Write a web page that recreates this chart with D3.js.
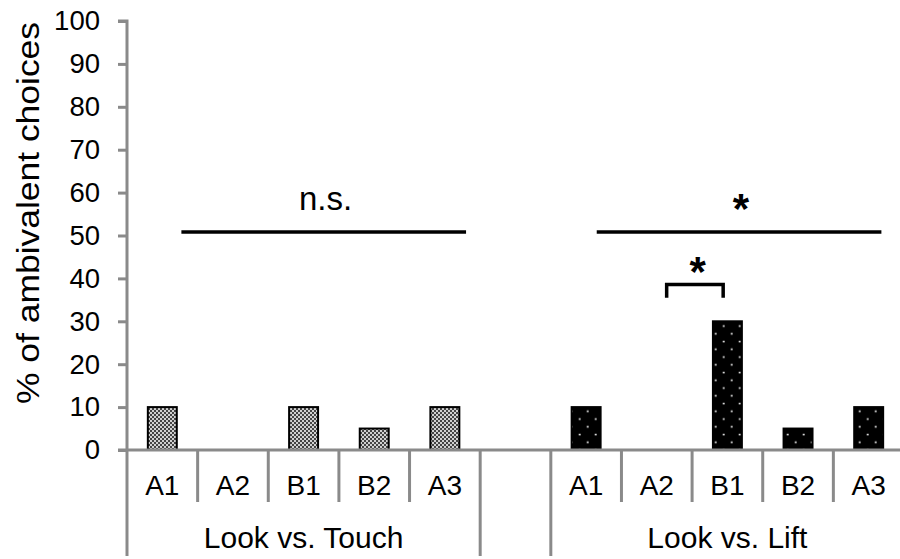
<!DOCTYPE html>
<html><head><meta charset="utf-8">
<script src="https://cdn.jsdelivr.net/npm/d3@7"></script>
<style>html,body{margin:0;padding:0;background:#fff;}svg{display:block;}</style>
</head><body>
<svg id="chart" width="900" height="559"></svg>
<script>
// ---- data ----
const groups = ["Look vs. Touch", "", "Look vs. Lift"];
const conditions = ["A1", "A2", "B1", "B2", "A3"];
const touchValues = [10, 0, 10, 5, 10];
const liftValues = [10, 0, 30, 5, 10];
const yTicks = [0, 10, 20, 30, 40, 50, 60, 70, 80, 90, 100];
const yTitle = "% of ambivalent choices";
// significance annotations (x in slot units, y in % units)
const sigLines = [
  {x1: 0.77, x2: 4.8, y: 50.8, label: "n.s.", lx: 2.81, bold: false},
  {x1: 6.65, x2: 10.68, y: 50.8, label: "*", lx: 8.69, bold: true}
];
const sigBrackets = [
  {x1: 7.64, x2: 8.44, yTop: 38.6, yBottom: 35.5, label: "*", lx: 8.08}
];

// ---- build slots ----
const slots = [];
conditions.forEach((c, i) => slots.push({key: "T" + c, label: c, value: touchValues[i], group: 0}));
slots.push({key: "gap", label: "", value: null, group: 1});
conditions.forEach((c, i) => slots.push({key: "L" + c, label: c, value: liftValues[i], group: 2}));

const svg = d3.select("#chart");
const font = "'Liberation Sans', Arial, sans-serif";
const axisColor = "#8a8a8a";

const x0 = 127, x1 = 904, yBase = 450, yTopPx = 21;
const xs = d3.scaleBand().domain(slots.map(d => d.key)).range([x0, x1]).padding(0);
const xl = d3.scaleLinear().domain([0, slots.length]).range([x0, x1]);
const y = d3.scaleLinear().domain([0, 100]).range([yBase, yTopPx]);

// patterns
const defs = svg.append("defs");
const pc = defs.append("pattern").attr("id", "checker").attr("patternUnits", "userSpaceOnUse")
  .attr("width", 4).attr("height", 4);
pc.append("rect").attr("width", 4).attr("height", 4).attr("fill", "#d0d0d0");
pc.append("rect").attr("width", 2).attr("height", 2).attr("fill", "#444");
pc.append("rect").attr("x", 2).attr("y", 2).attr("width", 2).attr("height", 2).attr("fill", "#444");

const pd = defs.append("pattern").attr("id", "dots").attr("patternUnits", "userSpaceOnUse")
  .attr("width", 16).attr("height", 15.5).attr("x", 3.7).attr("y", 0);
pd.append("rect").attr("width", 16).attr("height", 15.5).attr("fill", "#000");
[[0, 0.6], [16, 0.6], [0, 16.1], [16, 16.1], [8, 8.35]].forEach(p =>
  pd.append("circle").attr("cx", p[0]).attr("cy", p[1]).attr("r", 1).attr("fill", "#e8e8e8"));

// y axis
const yAxis = d3.axisLeft(y).tickValues(yTicks).tickSize(9).tickSizeOuter(9).tickPadding(18);
const gy = svg.append("g").attr("transform", `translate(${x0},0)`).call(yAxis);
gy.select(".domain").attr("stroke", axisColor).attr("stroke-width", 3).attr("d", `M-9,${yTopPx}H0V${yBase}`);
gy.selectAll(".tick line").attr("stroke", axisColor).attr("stroke-width", 3);
gy.selectAll(".tick text").attr("font-family", font).attr("font-size", 27.5).attr("fill", "#000");

// y title
svg.append("text").attr("transform", `translate(39,213) rotate(-90)`)
  .attr("text-anchor", "middle").attr("font-family", font).attr("font-size", 32).attr("fill", "#000")
  .attr("textLength", 382).attr("lengthAdjust", "spacingAndGlyphs")
  .text(yTitle);

// bars
const bw = xs.bandwidth() * 0.41;
svg.append("g").selectAll("rect").data(slots.filter(d => d.value !== null && d.value > 0)).join("rect")
  .attr("x", d => xs(d.key) + xs.bandwidth() / 2 - bw / 2)
  .attr("y", d => y(d.value))
  .attr("width", bw)
  .attr("height", d => y(0) - y(d.value))
  .attr("fill", d => d.group === 0 ? "url(#checker)" : "url(#dots)")
  .attr("stroke", "#000").attr("stroke-width", 2);

// x axis line
svg.append("line").attr("x1", x0 - 9).attr("x2", 900).attr("y1", yBase).attr("y2", yBase)
  .attr("stroke", axisColor).attr("stroke-width", 3);

// slot separators
const bounds = d3.range(slots.length + 1);
const groupBounds = [0, 5, 6, 11];
svg.append("g").selectAll("line").data(bounds).join("line")
  .attr("x1", d => xl(d)).attr("x2", d => xl(d))
  .attr("y1", yBase).attr("y2", d => groupBounds.includes(d) ? 556 : 502)
  .attr("stroke", axisColor).attr("stroke-width", 3);

// category labels
svg.append("g").selectAll("text").data(slots.filter(d => d.label)).join("text")
  .attr("x", d => xs(d.key) + xs.bandwidth() / 2).attr("y", 495)
  .attr("text-anchor", "middle").attr("font-family", font).attr("font-size", 28).attr("fill", "#000")
  .text(d => d.label);

// group labels
const groupSpans = [[0, 5], [5, 6], [6, 11]];
svg.append("g").selectAll("text").data(groups.map((g, i) => ({g, s: groupSpans[i]})).filter(d => d.g)).join("text")
  .attr("x", d => xl((d.s[0] + d.s[1]) / 2)).attr("y", 548)
  .attr("text-anchor", "middle").attr("font-family", font).attr("font-size", 30).attr("fill", "#000")
  .text(d => d.g);

// significance lines
svg.append("g").selectAll("line").data(sigLines).join("line")
  .attr("x1", d => xl(d.x1)).attr("x2", d => xl(d.x2))
  .attr("y1", d => y(d.y)).attr("y2", d => y(d.y))
  .attr("stroke", "#000").attr("stroke-width", 3.5);
svg.append("g").selectAll("text").data(sigLines).join("text")
  .attr("x", d => xl(d.lx)).attr("y", d => d.bold ? y(d.y) - 9 : y(d.y) - 22)
  .attr("text-anchor", "middle").attr("font-family", font)
  .attr("font-size", d => d.bold ? 42 : 33).attr("font-weight", d => d.bold ? "bold" : "normal")
  .attr("fill", "#000").text(d => d.label);

// brackets
svg.append("g").selectAll("path").data(sigBrackets).join("path")
  .attr("d", d => `M${xl(d.x1)},${y(d.yBottom)}V${y(d.yTop)}H${xl(d.x2)}V${y(d.yBottom)}`)
  .attr("fill", "none").attr("stroke", "#000").attr("stroke-width", 3.5);
svg.append("g").selectAll("text").data(sigBrackets).join("text")
  .attr("x", d => xl(d.lx)).attr("y", d => y(d.yTop) + 2)
  .attr("text-anchor", "middle").attr("font-family", font)
  .attr("font-size", 42).attr("font-weight", "bold").attr("fill", "#000").text(d => d.label);
</script>
</body></html>
